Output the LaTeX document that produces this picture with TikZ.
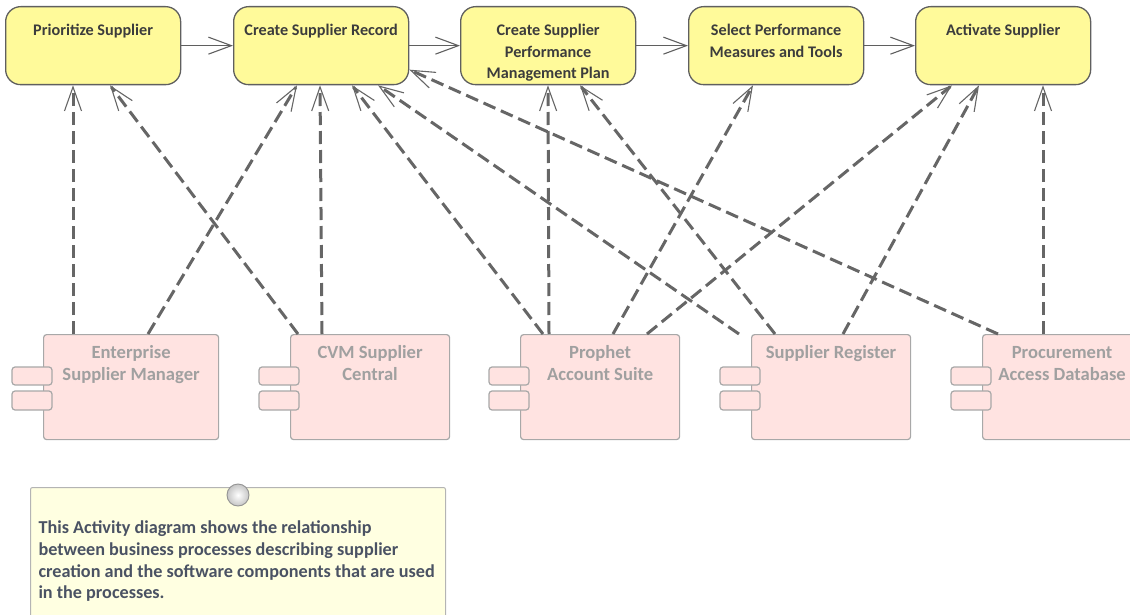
\documentclass[tikz,border=0pt]{standalone}
\usepackage{fontspec}
\setmainfont{Carlito}
\usetikzlibrary{arrows.meta}
\definecolor{actfill}{HTML}{FFFA9A}
\definecolor{actline}{HTML}{5F5F5F}
\definecolor{acttext}{HTML}{3C3C3C}
\definecolor{compfill}{HTML}{FFE3E1}
\definecolor{compline}{HTML}{A8A8A8}
\definecolor{comptext}{HTML}{A0A0A0}
\definecolor{depgray}{HTML}{666666}
\definecolor{notefill}{HTML}{FFFFE1}
\definecolor{noteline}{HTML}{B4B4B4}
\definecolor{notetext}{HTML}{4A5263}
\newcommand{\acttext}[1]{\parbox[c][50pt][t]{165pt}{\centering\strut #1}}
\newcommand{\comptext}[1]{\parbox[c][89pt][t]{155pt}{\centering\strut #1}}
\newcommand{\component}[4]{%
  \node[compbody, minimum width=#3pt] (#1) at (#2,334) {\comptext{#4}};
  \draw[compport] ([xshift=-31pt,yshift=-33pt]#1.north west) rectangle ++(40pt,-18pt);
  \draw[compport] ([xshift=-31pt,yshift=-57pt]#1.north west) rectangle ++(40pt,-19pt);
}

\begin{document}
\begin{tikzpicture}[x=1pt, y=-1pt,
    act/.style={draw=actline, fill=actfill, line width=1.3pt, rounded corners=15pt,
      minimum width=175pt, minimum height=78pt, inner sep=0pt, anchor=north west,
      font=\bfseries\fontsize{16.2}{21.5}\selectfont, text=acttext},
    compbody/.style={draw=compline, fill=compfill, line width=1.2pt, rounded corners=3pt,
      minimum height=105pt, inner sep=0pt, anchor=north west,
      font=\bfseries\fontsize{18.6}{22}\selectfont, text=comptext},
    compport/.style={draw=compline, fill=compfill, line width=1.2pt, rounded corners=3pt},
    flow/.style={draw=actline, line width=1.1pt, -{Straight Barb[length=23pt,width=17pt,line width=1.1pt]}},
    dep/.style={draw=depgray, line width=3pt, dash pattern=on 13pt off 6pt,
      -{Straight Barb[length=24pt,width=17pt,line width=1.1pt]}},
    notebox/.style={draw=noteline, fill=notefill, line width=1pt, rounded corners=2pt,
      inner xsep=8pt, inner ysep=31pt, anchor=north west,
      font=\bfseries\fontsize{18.2}{21.7}\selectfont, text=notetext}]
  \useasboundingbox (0,0) rectangle (1130,615);
  \path[clip] (0,0) rectangle (1130,615);

  % ---------- activities ----------
  \node[act] (prio) at (5,6)   {\acttext{Prioritize Supplier}};
  \node[act] (rec)  at (233,6) {\acttext{Create Supplier Record}};
  \node[act] (plan) at (460,6) {\acttext{Create Supplier\\Performance\\Management Plan}};
  \node[act] (meas) at (688,6) {\acttext{Select Performance\\Measures and Tools}};
  \node[act] (act)  at (915,6) {\acttext{Activate Supplier}};

  \draw[flow] (prio) -- (rec);
  \draw[flow] (rec) -- (plan);
  \draw[flow] (plan) -- (meas);
  \draw[flow] (meas) -- (act);

  % ---------- components ----------
  \component{ent}{43}{175}{Enterprise\\Supplier Manager}
  \component{cvm}{290}{159}{CVM Supplier\\Central}
  \component{proph}{520}{159}{Prophet\\Account Suite}
  \component{reg}{751}{159}{Supplier Register}
  \component{proc}{982}{159}{Procurement\\Access Database}

  % ---------- dependencies ----------
  \draw[dep] ([xshift=30pt]ent.north west) -- ([xshift=68pt]prio.south west);
  \draw[dep] ([xshift=105pt]ent.north west) -- ([xshift=64pt]rec.south west);
  \draw[dep] ([xshift=8pt]cvm.north west) -- ([xshift=105pt]prio.south west);
  \draw[dep] ([xshift=32pt]cvm.north west) -- ([xshift=87pt]rec.south west);
  \draw[dep] ([xshift=23pt]proph.north west) -- ([xshift=119pt]rec.south west);
  \draw[dep] ([xshift=29pt]proph.north west) -- ([xshift=88pt]plan.south west);
  \draw[dep] ([xshift=93pt]proph.north west) -- ([xshift=65pt]meas.south west);
  \draw[dep] ([xshift=127pt]proph.north west) -- ([xshift=37pt]act.south west);
  \draw[dep] ([xshift=-12pt]reg.north west) -- ([xshift=145pt]rec.south west);
  \draw[dep] ([xshift=24pt]reg.north west) -- ([xshift=120pt]plan.south west);
  \draw[dep] ([xshift=92pt]reg.north west) -- ([xshift=64pt]act.south west);
  \draw[dep] ([xshift=16pt]proc.north west) -- ([yshift=-24pt]rec.east);
  \draw[dep] ([xshift=61pt]proc.north west) -- ([xshift=128pt]act.south west);

  % ---------- note ----------
  \node[notebox] (note) at (30,487)
    {\parbox[c][110pt][t]{399pt}{\raggedright\strut This Activity diagram shows the relationship\\
     between business processes describing supplier\\
     creation and the software components that are used\\
     in the processes.}};
  \node[circle, draw=gray!85, line width=0.9pt, minimum size=22pt, inner sep=0pt,
    inner color=white, outer color=gray!45] (pin) at ([yshift=-8pt]note.north) {};
\end{tikzpicture}
\end{document}
